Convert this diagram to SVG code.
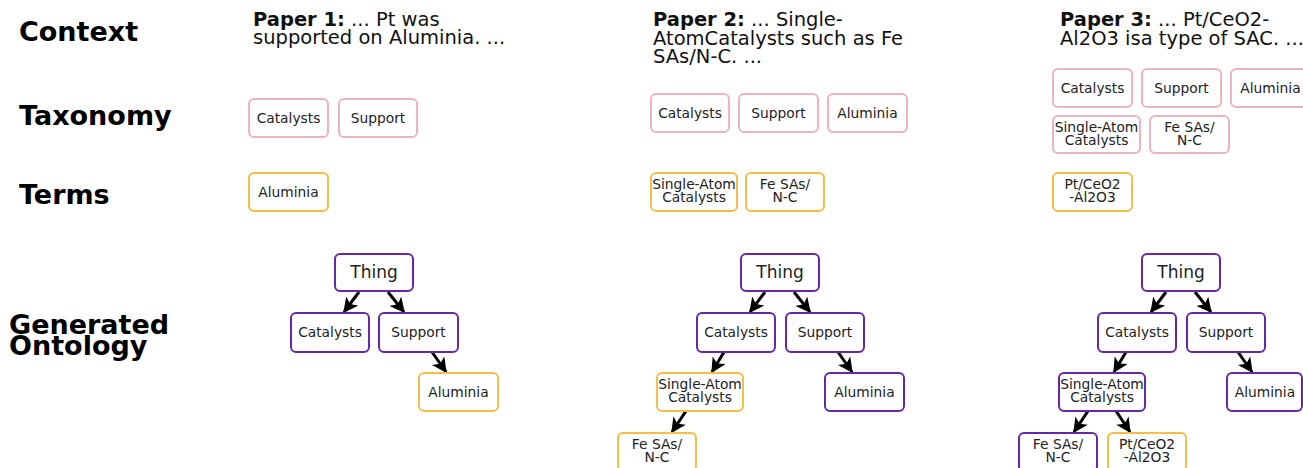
<svg xmlns="http://www.w3.org/2000/svg" width="1303" height="468" viewBox="0 0 1303 468">
<defs>
<style>
.h{font-family:"DejaVu Sans",sans-serif;font-weight:bold;font-size:27px;fill:#000}
.p{font-family:"DejaVu Sans",sans-serif;font-size:19.5px;fill:#111}
.pb{font-weight:bold}
.t{font-family:"DejaVu Sans",sans-serif;font-size:13.8px;fill:#222;text-anchor:middle}
.big{font-size:17px}
.bx{fill:#fff;stroke-width:2}
.pk{stroke:#eeb4bd}
.or{stroke:#f7bd47}
.pu{stroke:#6528a8}
.ar{stroke:#000;stroke-width:3;fill:none}
</style>
<marker id="ah" viewBox="0 0 12 12" refX="11" refY="6" markerWidth="15" markerHeight="15" markerUnits="userSpaceOnUse" orient="auto">
<path d="M0,0 L12,6 L0,12 L3,6 Z" fill="#000"/>
</marker>
</defs>
<rect width="1303" height="468" fill="#fff"/>

<g id="labels">
<text class="h" x="19" y="41">Context</text>
<text class="h" x="19" y="125">Taxonomy</text>
<text class="h" x="19" y="204">Terms</text>
<text class="h" x="9" y="334">Generated</text>
<text class="h" x="9" y="355">Ontology</text>
</g>

<g id="context1"><text class="p" x="253" y="26"><tspan class="pb">Paper 1:</tspan> ... Pt was</text><text class="p" x="253" y="44">supported on Aluminia. ...</text></g>
<g id="context2"><text class="p" x="653" y="26"><tspan class="pb">Paper 2:</tspan> ... Single-</text><text class="p" x="653" y="45">AtomCatalysts such as Fe</text><text class="p" x="653" y="63">SAs/N-C. ...</text></g>
<g id="context3"><text class="p" x="1060" y="26"><tspan class="pb">Paper 3:</tspan> ... Pt/CeO2-</text><text class="p" x="1060" y="45">Al2O3 isa type of SAC. ...</text></g>

<g id="tax1-catalysts"><rect class="bx pk" x="249" y="99" width="79" height="38" rx="5"/><text class="t" x="288.5" y="123">Catalysts</text></g>
<g id="tax1-support"><rect class="bx pk" x="339" y="99" width="78" height="38" rx="5"/><text class="t" x="378" y="123">Support</text></g>
<g id="term1-aluminia"><rect class="bx or" x="249" y="173" width="79" height="38" rx="5"/><text class="t" x="288.5" y="197">Aluminia</text></g>

<g id="tax2-catalysts"><rect class="bx pk" x="651" y="94" width="78" height="38" rx="5"/><text class="t" x="690" y="118">Catalysts</text></g>
<g id="tax2-support"><rect class="bx pk" x="739" y="94" width="79" height="38" rx="5"/><text class="t" x="778.5" y="118">Support</text></g>
<g id="tax2-aluminia"><rect class="bx pk" x="828" y="94" width="79" height="38" rx="5"/><text class="t" x="867.5" y="118">Aluminia</text></g>
<g id="term2-sac"><rect class="bx or" x="651" y="173" width="86" height="38" rx="5"/><text class="t" x="694" y="189">Single-Atom</text><text class="t" x="694" y="202">Catalysts</text></g>
<g id="term2-fe"><rect class="bx or" x="746" y="173" width="78" height="38" rx="5"/><text class="t" x="785" y="189">Fe SAs/</text><text class="t" x="785" y="202">N-C</text></g>

<g id="tax3-catalysts"><rect class="bx pk" x="1053" y="69" width="79" height="38" rx="5"/><text class="t" x="1092.5" y="93">Catalysts</text></g>
<g id="tax3-support"><rect class="bx pk" x="1142" y="69" width="79" height="38" rx="5"/><text class="t" x="1181.5" y="93">Support</text></g>
<g id="tax3-aluminia"><rect class="bx pk" x="1231" y="69" width="79" height="38" rx="5"/><text class="t" x="1270.5" y="93">Aluminia</text></g>
<g id="tax3-sac"><rect class="bx pk" x="1053" y="116" width="87" height="37" rx="5"/><text class="t" x="1096.5" y="132">Single-Atom</text><text class="t" x="1096.5" y="145">Catalysts</text></g>
<g id="tax3-fe"><rect class="bx pk" x="1150" y="116" width="79" height="37" rx="5"/><text class="t" x="1189.5" y="132">Fe SAs/</text><text class="t" x="1189.5" y="145">N-C</text></g>
<g id="term3-pt"><rect class="bx or" x="1053" y="173" width="79" height="38" rx="5"/><text class="t" x="1092.5" y="189">Pt/CeO2</text><text class="t" x="1092.5" y="202">-Al2O3</text></g>

<g id="connectors">
<line class="ar" x1="359" y1="292" x2="344" y2="312" marker-end="url(#ah)"/>
<line class="ar" x1="388" y1="292" x2="404" y2="312" marker-end="url(#ah)"/>
<line class="ar" x1="432" y1="352" x2="446" y2="372" marker-end="url(#ah)"/>

<line class="ar" x1="765" y1="292" x2="750" y2="312" marker-end="url(#ah)"/>
<line class="ar" x1="794" y1="292" x2="810" y2="312" marker-end="url(#ah)"/>
<line class="ar" x1="724" y1="352" x2="712" y2="372" marker-end="url(#ah)"/>
<line class="ar" x1="838" y1="352" x2="852" y2="372" marker-end="url(#ah)"/>
<line class="ar" x1="686" y1="411" x2="672" y2="432" marker-end="url(#ah)"/>

<line class="ar" x1="1166" y1="292" x2="1151" y2="312" marker-end="url(#ah)"/>
<line class="ar" x1="1195" y1="292" x2="1211" y2="312" marker-end="url(#ah)"/>
<line class="ar" x1="1126" y1="352" x2="1114" y2="372" marker-end="url(#ah)"/>
<line class="ar" x1="1238" y1="352" x2="1252" y2="372" marker-end="url(#ah)"/>
<line class="ar" x1="1088" y1="411" x2="1074" y2="432" marker-end="url(#ah)"/>
<line class="ar" x1="1116" y1="411" x2="1130" y2="432" marker-end="url(#ah)"/>
</g>

<g id="o1-thing"><rect class="bx pu" x="335" y="254" width="78" height="37" rx="5"/><text class="t big" x="374" y="278">Thing</text></g>
<g id="o1-catalysts"><rect class="bx pu" x="291" y="313" width="78" height="39" rx="5"/><text class="t" x="330" y="337">Catalysts</text></g>
<g id="o1-support"><rect class="bx pu" x="379" y="313" width="79" height="39" rx="5"/><text class="t" x="418.5" y="337">Support</text></g>
<g id="o1-aluminia"><rect class="bx or" x="419" y="373" width="79" height="38" rx="5"/><text class="t" x="458.5" y="397">Aluminia</text></g>

<g id="o2-thing"><rect class="bx pu" x="741" y="254" width="78" height="37" rx="5"/><text class="t big" x="780" y="278">Thing</text></g>
<g id="o2-catalysts"><rect class="bx pu" x="697" y="313" width="78" height="39" rx="5"/><text class="t" x="736" y="337">Catalysts</text></g>
<g id="o2-support"><rect class="bx pu" x="786" y="313" width="78" height="39" rx="5"/><text class="t" x="825" y="337">Support</text></g>
<g id="o2-sac"><rect class="bx or" x="657" y="373" width="86" height="38" rx="5"/><text class="t" x="700" y="389">Single-Atom</text><text class="t" x="700" y="402">Catalysts</text></g>
<g id="o2-aluminia"><rect class="bx pu" x="825" y="373" width="79" height="38" rx="5"/><text class="t" x="864.5" y="397">Aluminia</text></g>
<g id="o2-fe"><rect class="bx or" x="618" y="433" width="78" height="38" rx="5"/><text class="t" x="657" y="449">Fe SAs/</text><text class="t" x="657" y="462">N-C</text></g>

<g id="o3-thing"><rect class="bx pu" x="1142" y="254" width="78" height="37" rx="5"/><text class="t big" x="1181" y="278">Thing</text></g>
<g id="o3-catalysts"><rect class="bx pu" x="1098" y="313" width="78" height="39" rx="5"/><text class="t" x="1137" y="337">Catalysts</text></g>
<g id="o3-support"><rect class="bx pu" x="1187" y="313" width="78" height="39" rx="5"/><text class="t" x="1226" y="337">Support</text></g>
<g id="o3-sac"><rect class="bx pu" x="1059" y="373" width="86" height="38" rx="5"/><text class="t" x="1102" y="389">Single-Atom</text><text class="t" x="1102" y="402">Catalysts</text></g>
<g id="o3-aluminia"><rect class="bx pu" x="1227" y="373" width="75" height="38" rx="5"/><text class="t" x="1265" y="397">Aluminia</text></g>
<g id="o3-fe"><rect class="bx pu" x="1019" y="433" width="78" height="38" rx="5"/><text class="t" x="1058" y="449">Fe SAs/</text><text class="t" x="1058" y="462">N-C</text></g>
<g id="o3-pt"><rect class="bx or" x="1108" y="433" width="78" height="38" rx="5"/><text class="t" x="1147" y="449">Pt/CeO2</text><text class="t" x="1147" y="462">-Al2O3</text></g>
</svg>
